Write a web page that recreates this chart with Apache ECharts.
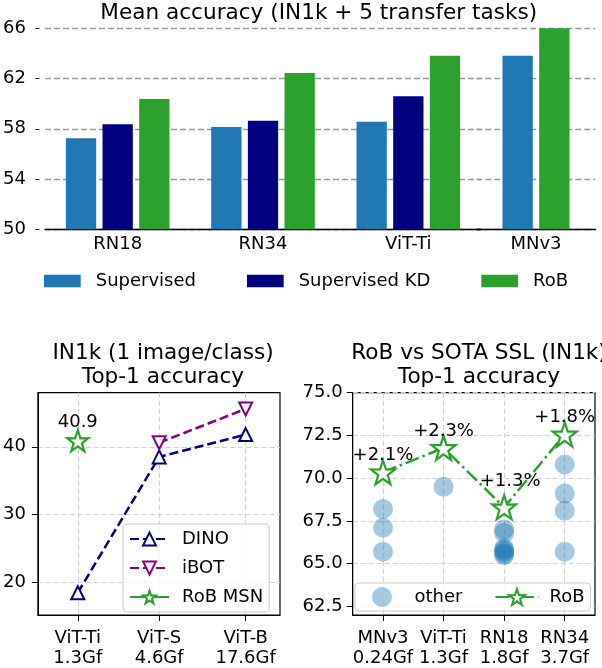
<!DOCTYPE html>
<html>
<head>
<meta charset="utf-8">
<script src="https://cdn.jsdelivr.net/npm/echarts@6/dist/echarts.min.js"></script>
<style>
  html, body { margin: 0; padding: 0; background: #fff; }
  #main { width: 602px; height: 668px; }
</style>
</head>
<body>
<div id="main"></div>
<script>
// top: mean accuracy (IN1k + 5 transfer tasks)
const backbones = ["RN18", "RN34", "ViT-Ti", "MNv3"];
const supervised = [57.25, 58.14, 58.57, 63.82];
const supervisedKD = [58.36, 58.65, 60.59, null];
const robMean = [60.37, 62.44, 63.82, 66.0];
const meanTicks = [50, 54, 58, 62, 66];

// bottom left: IN1k 1 image/class
const vitLabels = ["ViT-Ti\n1.3Gf", "ViT-S\n4.6Gf", "ViT-B\n17.6Gf"];
const vitGflops = [1.3, 4.6, 17.6];
const dino = [18.4, 38.5, 41.8];
const ibot = [null, 40.6, 45.6];
const robMsn = [40.9, null, null];
const lowShotTicks = [20, 30, 40];

// bottom right: RoB vs SOTA SSL
const sslLabels = ["MNv3\n0.24Gf", "ViT-Ti\n1.3Gf", "RN18\n1.8Gf", "RN34\n3.7Gf"];
const robSsl = [70.35, 71.77, 68.3, 72.56];
const robGain = ["+2.1%", "+2.3%", "+1.3%", "+1.8%"];
const otherSsl = [
  [68.2, 67.1, 65.7],
  [69.5],
  [67.0, 66.8, 65.9, 65.8, 65.7, 65.6, 65.5],
  [70.8, 69.1, 68.1, 65.7],
];
const sslTicks = [62.5, 65, 67.5, 70, 72.5, 75];

const FONT = "DejaVu Sans";
const C_SUP = "#1f77b4", C_KD = "#000080", C_ROB = "#2ca02c", C_IBOT = "#800080";
const starPath = "path://M50,0L61.8,35.1L97.6,34.5L68.8,56.7L79.4,90.9L50,70.2L20.6,90.9L31.2,56.7L2.4,34.5L38.2,35.1Z";

const chart = echarts.init(document.getElementById("main"), null, { renderer: "canvas" });

const lightGrid = { show: true, lineStyle: { color: "#d0d0d0", width: 1.2, type: [5, 3] } };
const tick = { show: true, inside: false, length: 6, lineStyle: { color: "#000", width: 1 } };
const lbl = { color: "#000", fontFamily: FONT, fontSize: 18 };
const frameLine = { show: true, onZero: false, lineStyle: { color: "#000" } };

// top bars: first three backbones have 3 bars, MNv3 has 2 -> second grid
const nA = 3;
const barCommon = { type: "bar", barWidth: 30.3, barGap: "21%" };

chart.setOption({
  animation: false,
  textStyle: { fontFamily: FONT },
  title: [
    { text: "Mean accuracy (IN1k + 5 transfer tasks)", left: 313.7, top: -3, textAlign: "center",
      textStyle: { fontFamily: FONT, fontSize: 21.6, fontWeight: "normal", color: "#000" } },
    { text: "IN1k (1 image/class)\nTop-1 accuracy", left: 158, top: 336, textAlign: "center",
      textStyle: { fontFamily: FONT, fontSize: 21.6, fontWeight: "normal", color: "#000", lineHeight: 24 } },
    { text: "RoB vs SOTA SSL (IN1k)\nTop-1 accuracy", left: 474, top: 336, textAlign: "center",
      textStyle: { fontFamily: FONT, fontSize: 21.6, fontWeight: "normal", color: "#000", lineHeight: 24 } },
  ],
  legend: [
    { data: ["Supervised", "Supervised KD", "RoB"], left: 39, top: 267, itemWidth: 36.7, itemHeight: 12.7,
      itemGap: 51, icon: "rect", selectedMode: false,
      textStyle: { fontFamily: FONT, fontSize: 18, color: "#000", padding: [0, 0, 0, 10] } },
    { data: ["DINO", "iBOT", "RoB MSN"], orient: "vertical", left: 123, top: 524, itemWidth: 39, itemHeight: 16,
      itemGap: 11, padding: [6, 6, 6, 6], selectedMode: false,
      backgroundColor: "rgba(255,255,255,0.8)", borderColor: "#cccccc", borderWidth: 1, borderRadius: 4,
      textStyle: { fontFamily: FONT, fontSize: 18, color: "#000", padding: [0, 0, 0, 8] } },
    { data: ["other", "RoB (SSL)"], orient: "horizontal", left: 355, top: 583, width: 260,
      itemWidth: 43, itemHeight: 20, itemGap: 32,
      padding: [4, 6, 4, 17], selectedMode: false,
      backgroundColor: "rgba(255,255,255,0.8)", borderColor: "#cccccc", borderWidth: 1, borderRadius: 4,
      formatter: (n) => n === "RoB (SSL)" ? "RoB" : n,
      textStyle: { fontFamily: FONT, fontSize: 18, color: "#000", padding: [0, 0, 0, 6] } },
  ],
  grid: [
    { left: 40.6, top: 28.3, width: 440.4, height: 201 },
    { left: 476.3, top: 28.3, width: 119.4, height: 201 },
    { left: 36, top: 392.7, width: 244, height: 225.3, show: true, borderColor: "#000", borderWidth: 1.2 },
    { left: 352.7, top: 392.7, width: 242.3, height: 226.3, show: true, borderColor: "#000", borderWidth: 1.2 },
  ],
  xAxis: [
    { type: "category", gridIndex: 0, data: backbones.slice(0, nA),
      axisLine: { lineStyle: { color: "#000", width: 1.3 } }, axisTick: { show: false },
      axisLabel: Object.assign({ margin: 6 }, lbl) },
    { type: "category", gridIndex: 1, data: backbones.slice(nA),
      axisLine: { lineStyle: { color: "#000", width: 1.3 } }, axisTick: { show: false },
      axisLabel: Object.assign({ margin: 6 }, lbl) },
    { type: "log", logBase: 10, gridIndex: 2, min: 0.7, max: 30,
      axisLine: frameLine,
      axisTick: Object.assign({ customValues: vitGflops }, tick),
      minorTick: { show: false }, minorSplitLine: { show: false },
      axisLabel: Object.assign({ customValues: vitGflops, margin: 13, lineHeight: 20,
        formatter: (v) => vitLabels[vitGflops.findIndex((g) => Math.abs(g - v) < 1e-6)] }, lbl),
      splitLine: lightGrid },
    { type: "value", gridIndex: 3, min: -0.5, max: 3.5,
      axisLine: frameLine,
      axisTick: Object.assign({ customValues: [0, 1, 2, 3] }, tick),
      axisLabel: Object.assign({ customValues: [0, 1, 2, 3], margin: 13, lineHeight: 20,
        formatter: (v) => sslLabels[Math.round(v)] }, lbl),
      splitLine: lightGrid },
  ],
  yAxis: [
    { type: "value", gridIndex: 0, min: 50, max: 66, offset: 5.6,
      axisLine: { show: false },
      axisTick: Object.assign({ customValues: meanTicks }, tick, { length: 4 }),
      axisLabel: Object.assign({ customValues: meanTicks, margin: 13.5 }, lbl),
      splitLine: { show: true, lineStyle: { color: "#999", width: 1.3, type: [6, 3] } } },
    { type: "value", gridIndex: 1, min: 50, max: 66,
      axisLine: { show: false }, axisTick: { show: false, customValues: meanTicks },
      axisLabel: { show: false, customValues: meanTicks },
      splitLine: { show: true, lineStyle: { color: "#999", width: 1.3, type: [6, 3] } } },
    { type: "value", gridIndex: 2, min: 15.1, max: 48,
      axisLine: frameLine,
      axisTick: Object.assign({ customValues: lowShotTicks }, tick),
      axisLabel: Object.assign({ customValues: lowShotTicks, margin: 12 }, lbl),
      splitLine: lightGrid },
    { type: "value", gridIndex: 3, min: 62, max: 75,
      axisLine: frameLine,
      axisTick: Object.assign({ customValues: sslTicks }, tick),
      axisLabel: Object.assign({ customValues: sslTicks, margin: 10,
        formatter: (v) => v.toFixed(1) }, lbl),
      splitLine: lightGrid },
  ],
  series: [
    // top bars
    Object.assign({ name: "Supervised", xAxisIndex: 0, yAxisIndex: 0, data: supervised.slice(0, nA),
      itemStyle: { color: C_SUP } }, barCommon),
    Object.assign({ name: "Supervised KD", xAxisIndex: 0, yAxisIndex: 0, data: supervisedKD.slice(0, nA),
      itemStyle: { color: C_KD } }, barCommon),
    Object.assign({ name: "RoB", xAxisIndex: 0, yAxisIndex: 0, data: robMean.slice(0, nA),
      itemStyle: { color: C_ROB } }, barCommon),
    Object.assign({ name: "Supervised", xAxisIndex: 1, yAxisIndex: 1, data: supervised.slice(nA),
      itemStyle: { color: C_SUP } }, barCommon),
    Object.assign({ name: "RoB", xAxisIndex: 1, yAxisIndex: 1, data: robMean.slice(nA),
      itemStyle: { color: C_ROB } }, barCommon),

    // bottom left
    { name: "DINO", type: "line", xAxisIndex: 2, yAxisIndex: 2,
      data: vitGflops.map((g, i) => [g, dino[i]]).filter((p) => p[1] != null),
      symbol: "triangle", symbolSize: 13,
      lineStyle: { color: C_KD, width: 2.5, type: [9, 4] },
      itemStyle: { color: "#fff", borderColor: C_KD, borderWidth: 2 } },
    { name: "iBOT", type: "line", xAxisIndex: 2, yAxisIndex: 2,
      data: vitGflops.map((g, i) => [g, ibot[i]]).filter((p) => p[1] != null),
      symbol: "triangle", symbolRotate: 180, symbolSize: 13,
      lineStyle: { color: C_IBOT, width: 2.5, type: [9, 4] },
      itemStyle: { color: "#fff", borderColor: C_IBOT, borderWidth: 2 } },
    { name: "RoB MSN", type: "line", xAxisIndex: 2, yAxisIndex: 2,
      data: vitGflops.map((g, i) => [g, robMsn[i]]).filter((p) => p[1] != null),
      symbol: starPath, symbolSize: 21,
      lineStyle: { color: C_ROB, width: 2.5 },
      itemStyle: { color: "#fff", borderColor: C_ROB, borderWidth: 2.2 },
      label: { show: true, position: "top", distance: -2, color: "#000", fontFamily: FONT, fontSize: 18,
        formatter: (p) => p.value[1].toFixed(1) } },

    // bottom right
    { name: "other", type: "scatter", xAxisIndex: 3, yAxisIndex: 3,
      data: otherSsl.flatMap((vals, i) => vals.map((v) => [i, v])),
      symbol: "circle", symbolSize: 20,
      itemStyle: { color: "rgba(31,119,180,0.5)" } },
    { name: "RoB (SSL)", type: "line", xAxisIndex: 3, yAxisIndex: 3, z: 5,
      data: robSsl.map((v, i) => ({ value: [i, v],
        label: i === 2 ? { offset: [6, -9] } : {} })),
      symbol: starPath, symbolSize: 24,
      lineStyle: { color: C_ROB, width: 2.5, type: [14, 4, 2.5, 4] },
      itemStyle: { color: "#fff", borderColor: C_ROB, borderWidth: 2.2 },
      label: { show: true, position: "top", distance: -5, color: "#000", fontFamily: FONT, fontSize: 18,
        formatter: (p) => robGain[p.dataIndex] } },
  ],
});
</script>
</body>
</html>
